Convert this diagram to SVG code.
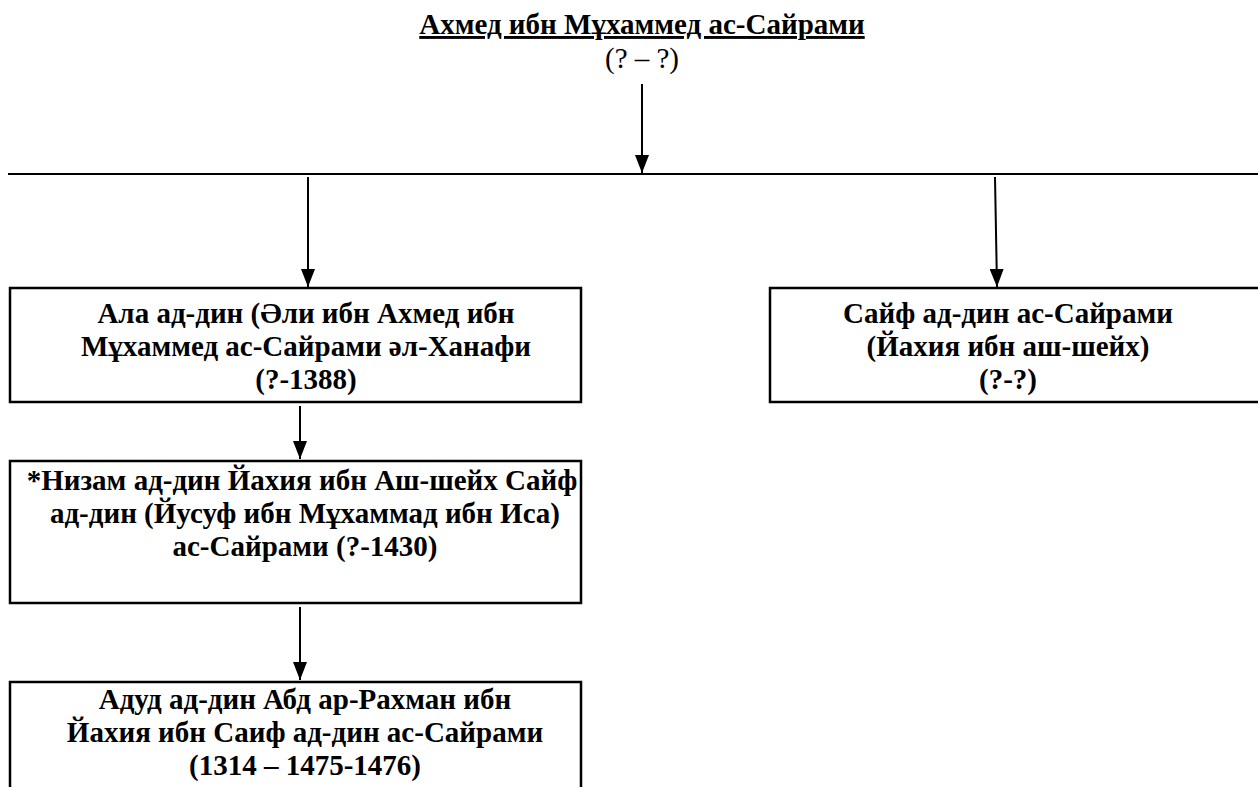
<svg xmlns="http://www.w3.org/2000/svg" width="1258" height="787" viewBox="0 0 1258 787">
<style>
text{font-family:"Liberation Serif","Times New Roman",serif;fill:#000;text-anchor:middle;font-size:29px}
.b{font-weight:bold}
.box{fill:#fff;stroke:#000;stroke-width:2.5}
.ln{stroke:#000;stroke-width:2;fill:none}
</style>
<defs>
<marker id="a" markerUnits="userSpaceOnUse" markerWidth="18" markerHeight="14" refX="18" refY="7" orient="auto" viewBox="0 0 18 14">
<path d="M0,0 L18,7 L0,14 Z" fill="#000"/>
</marker>
</defs>
<g id="root">
<text class="b" x="642" y="34" text-decoration="underline">Ахмед ибн Мұхаммед ас-Сайрами</text>
<text x="642" y="68">(? – ?)</text>
</g>
<g id="connectors">
<line class="ln" x1="642" y1="84" x2="642" y2="173" marker-end="url(#a)"/>
<line class="ln" x1="8" y1="174" x2="1258" y2="174"/>
<line class="ln" x1="308" y1="177" x2="308" y2="287" marker-end="url(#a)"/>
<line class="ln" x1="995" y1="177" x2="997" y2="287" marker-end="url(#a)"/>
<line class="ln" x1="300" y1="406" x2="300" y2="459" marker-end="url(#a)"/>
<line class="ln" x1="300" y1="607" x2="300" y2="680" marker-end="url(#a)"/>
</g>
<g id="n1">
<rect class="box" x="10" y="288" width="571" height="114"/>
<text class="b" x="306" y="323">Ала ад-дин (Әли ибн Ахмед ибн</text>
<text class="b" x="306" y="356">Мұхаммед ас-Сайрами әл-Ханафи</text>
<text class="b" x="306" y="389">(?-1388)</text>
</g>
<g id="n2">
<rect class="box" x="770" y="288" width="490" height="114"/>
<text class="b" x="1008" y="323">Сайф ад-дин ас-Сайрами</text>
<text class="b" x="1008" y="356">(Йахия ибн аш-шейх)</text>
<text class="b" x="1008" y="389">(?-?)</text>
</g>
<g id="n3">
<rect class="box" x="10" y="461" width="571" height="142"/>
<text class="b" x="302" y="490">*Низам ад-дин Йахия ибн Аш-шейх Сайф</text>
<text class="b" x="305" y="523">ад-дин (Йусуф ибн Мұхаммад ибн Иса)</text>
<text class="b" x="305" y="556">ас-Сайрами (?-1430)</text>
</g>
<g id="n4">
<rect class="box" x="10" y="682" width="571" height="130"/>
<text class="b" x="305" y="709">Адуд ад-дин Абд ар-Рахман ибн</text>
<text class="b" x="305" y="742">Йахия ибн Саиф ад-дин ас-Сайрами</text>
<text class="b" x="305" y="775">(1314 – 1475-1476)</text>
</g>
</svg>
